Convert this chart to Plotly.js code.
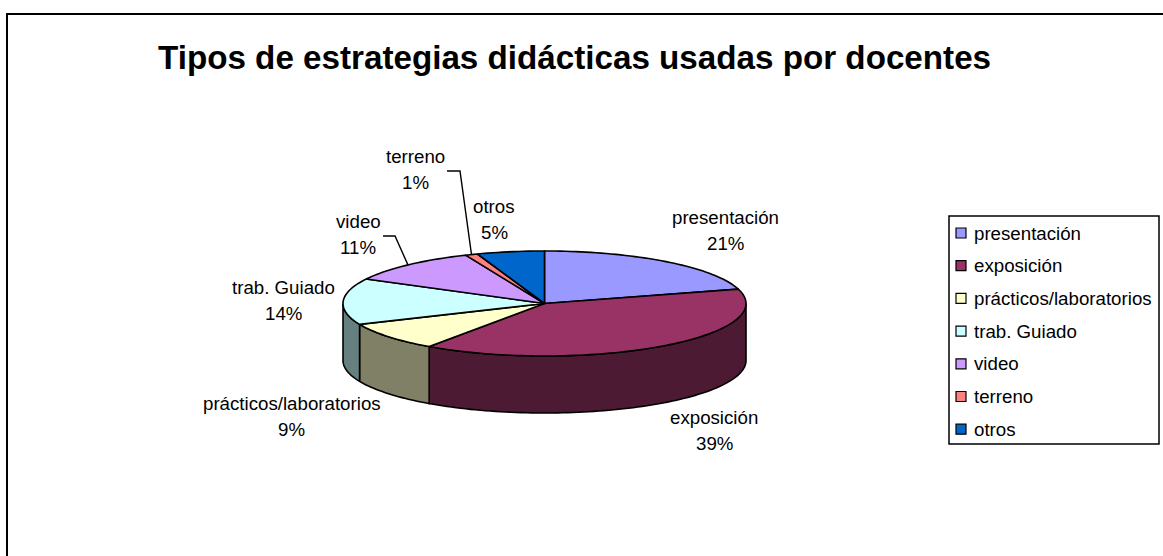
<!DOCTYPE html>
<html><head><meta charset="utf-8">
<script src="https://cdn.plot.ly/plotly-3.0.1.min.js"></script>
<style>html,body{margin:0;padding:0;background:#fff}#c{width:1163px;height:556px}</style>
</head><body><div id="c"></div>
<script>
const categories = ['presentación','exposición','prácticos/laboratorios','trab. Guiado','video','terreno','otros'];
const shares = [20.6,39.1,8.8,14.2,10.9,1.0,5.4];
const percentLabels = ['21%','39%','9%','14%','11%','1%','5%'];
const topColors = ['#9999FF','#993366','#FFFFCC','#CCFFFF','#CC99FF','#FF8080','#0066CC'];
const wallColors = ['#4D4D80','#4D1A33','#808066','#668080','#664D80','#804040','#003366'];

const FONT = 'Liberation Sans, Arial, sans-serif';
const P = {cx:544.5, cy:303.5, rx:201.5, ry:52.5, depth:57};
const labelPos = [[725,217],[714,417],[291.5,403],[283.5,287],[358,221],[415.5,156],[494,206]];
const lineGap = 26;
const leaderElbows = {4:[[383,236],[395,236]], 5:[[447,171],[460,171]]};
const legendBox = {x0:949,y0:216,x1:1159,y1:444,swatchX:961,textX:972,firstRow:233,rowStep:32.7};

const total = shares.reduce((a,b)=>a+b,0);
const pt = (deg, dy=0) => {
  const t = deg*Math.PI/180;
  return [P.cx+P.rx*Math.sin(t), P.cy-P.ry*Math.cos(t)+dy];
};
function arc(a,b,dy=0){
  const n=Math.max(2,Math.ceil(Math.abs(b-a)/1.5)), out=[];
  for(let i=0;i<=n;i++) out.push(pt(a+(b-a)*i/n,dy));
  return out;
}
function poly(points,fill,name){
  return {type:'scatter',mode:'lines',x:points.map(p=>p[0]),y:points.map(p=>p[1]),
    fill:'toself',fillcolor:fill,line:{color:'#000',width:1.6,simplify:false},
    hoverinfo:'text',text:name,showlegend:false};
}
let start=0; const wedges=shares.map(v=>{const a=start; start+=v/total*360; return [a,start];});

const walls=[], tops=[];
wedges.forEach(([a,b],i)=>{
  const lo=Math.max(a,90), hi=Math.min(b,270);
  if(hi>lo){
    walls.push(poly([...arc(lo,hi,0),...arc(hi,lo,P.depth),pt(lo)],wallColors[i],categories[i]));
  }
  tops.push(poly([[P.cx,P.cy],...arc(a,b),[P.cx,P.cy]],topColors[i],categories[i]));
});

const leaders=Object.keys(leaderElbows).map(k=>{
  const [a,b]=wedges[k], end=pt((a+b)/2), pts=[...leaderElbows[k],end];
  return {type:'scatter',mode:'lines',x:pts.map(p=>p[0]),y:pts.map(p=>p[1]),
    line:{color:'#000',width:1.4},hoverinfo:'skip',showlegend:false};
});

const swatches={type:'scatter',mode:'markers',
  x:categories.map(()=>legendBox.swatchX),
  y:categories.map((_,i)=>legendBox.firstRow+i*legendBox.rowStep),
  marker:{symbol:'square',size:10,color:topColors,line:{color:'#000',width:1.2}},
  hoverinfo:'skip',showlegend:false};

const annotations=[{x:574,y:57,xref:'x',yref:'y',text:'<b>Tipos de estrategias didácticas usadas por docentes</b>',
  showarrow:false,font:{family:FONT,size:33.2,color:'#000'},xanchor:'center',yanchor:'middle'}];
const LABEL_FONT={family:FONT,size:18.7,color:'#000'};
categories.forEach((c,i)=>{
  annotations.push({x:labelPos[i][0],y:labelPos[i][1],xref:'x',yref:'y',text:c,
    showarrow:false,xanchor:'center',yanchor:'middle',font:LABEL_FONT});
  annotations.push({x:labelPos[i][0],y:labelPos[i][1]+lineGap,xref:'x',yref:'y',text:percentLabels[i],
    showarrow:false,xanchor:'center',yanchor:'middle',font:LABEL_FONT});
  annotations.push({x:legendBox.textX,y:legendBox.firstRow+i*legendBox.rowStep,xref:'x',yref:'y',text:c,
    showarrow:false,align:'left',xanchor:'left',yanchor:'middle',font:LABEL_FONT});
});

const layout={
  width:1163,height:556,margin:{l:0,r:0,t:0,b:0},paper_bgcolor:'#fff',plot_bgcolor:'#fff',showlegend:false,
  xaxis:{range:[0,1163],visible:false,fixedrange:true},
  yaxis:{range:[556,0],visible:false,fixedrange:true},
  shapes:[
    {type:'rect',xref:'x',yref:'y',x0:7,y0:14,x1:1170,y1:570,line:{color:'#000',width:2}},
    {type:'rect',xref:'x',yref:'y',x0:legendBox.x0,y0:legendBox.y0,x1:legendBox.x1,y1:legendBox.y1,line:{color:'#000',width:1.5}}
  ],
  annotations
};
Plotly.newPlot('c',[...walls,...tops,...leaders,swatches],layout,{displayModeBar:false,staticPlot:true});
</script></body></html>
